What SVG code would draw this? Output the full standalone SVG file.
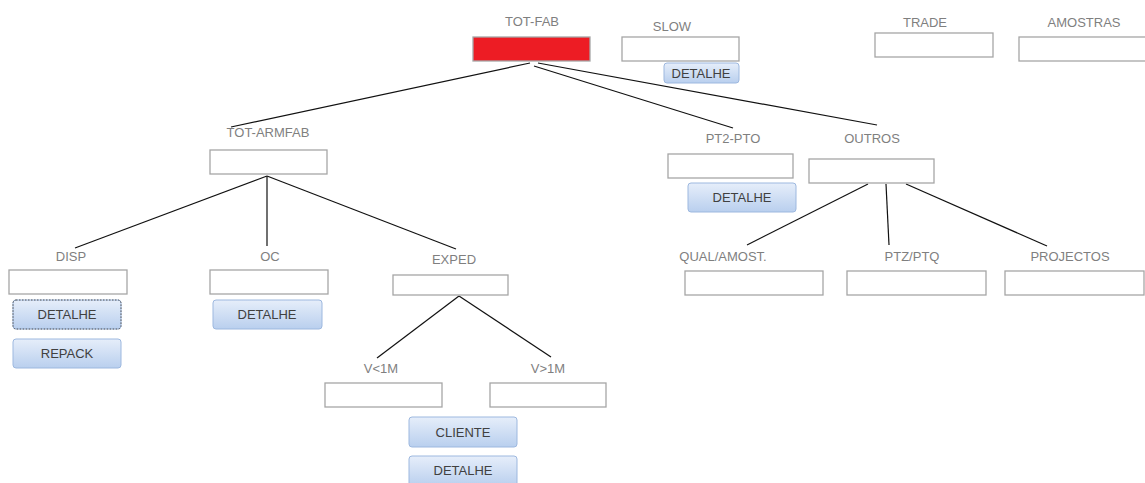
<svg xmlns="http://www.w3.org/2000/svg" width="1145" height="483" viewBox="0 0 1145 483">
<defs>
<linearGradient id="btn" x1="0" y1="0" x2="0" y2="1">
<stop offset="0" stop-color="#e6eefa"/>
<stop offset="1" stop-color="#b9cfee"/>
</linearGradient>
</defs>
<style>
.lbl{font-family:"Liberation Sans",Arial,sans-serif;font-size:13px;fill:#7f7f7f;text-anchor:middle}
.box{fill:#fff;stroke:#a6a6a6;stroke-width:1.3}
.btn{fill:url(#btn);stroke:#9db8df;stroke-width:1}
.bt{font-family:"Liberation Sans",Arial,sans-serif;font-size:13px;fill:#404040;text-anchor:middle}
.ln{stroke:#111;stroke-width:1.2;fill:none}
</style>
<rect width="1145" height="483" fill="#fff"/>
<g id="connectors">
<line class="ln" x1="530" y1="63" x2="231" y2="127"/>
<line class="ln" x1="534" y1="66" x2="733" y2="128"/>
<line class="ln" x1="538" y1="63" x2="877" y2="125"/>
<line class="ln" x1="267" y1="176" x2="75" y2="248"/>
<line class="ln" x1="267" y1="176" x2="267" y2="246"/>
<line class="ln" x1="267" y1="176" x2="456" y2="249"/>
<line class="ln" x1="459" y1="296" x2="377" y2="358" stroke-width="1.8"/>
<line class="ln" x1="459" y1="296" x2="551" y2="357" stroke-width="1.8"/>
<line class="ln" x1="868" y1="184" x2="747" y2="245" stroke-width="2"/>
<line class="ln" x1="886" y1="184" x2="889" y2="245" stroke-width="1.6"/>
<line class="ln" x1="906" y1="184" x2="1047" y2="246"/>
</g>
<g id="tot-fab"><text class="lbl" x="532" y="26">TOT-FAB</text><rect x="473" y="37" width="117" height="24" fill="#ed1c24" stroke="#a6a6a6" stroke-width="1.3"/></g>
<g id="slow"><text class="lbl" x="672" y="31">SLOW</text><rect class="box" x="622" y="37" width="117" height="24"/>
<rect class="btn" x="664" y="63" width="75" height="20" rx="3"/><text class="bt" x="701" y="78">DETALHE</text></g>
<g id="trade"><text class="lbl" x="925" y="27">TRADE</text><rect class="box" x="875" y="33" width="118" height="24"/></g>
<g id="amostras"><text class="lbl" x="1084" y="27">AMOSTRAS</text><rect class="box" x="1019" y="37" width="130" height="24"/></g>
<g id="tot-armfab"><text class="lbl" x="268" y="137">TOT-ARMFAB</text><rect class="box" x="210" y="150" width="117" height="24"/></g>
<g id="pt2-pto"><text class="lbl" x="733" y="143">PT2-PTO</text><rect class="box" x="668" y="154" width="125" height="24"/>
<rect class="btn" x="688" y="183" width="108" height="29" rx="3"/><text class="bt" x="742" y="202">DETALHE</text></g>
<g id="outros"><text class="lbl" x="872" y="143">OUTROS</text><rect class="box" x="809" y="159" width="125" height="24"/></g>
<g id="disp"><text class="lbl" x="71" y="261">DISP</text><rect class="box" x="9" y="270" width="118" height="24"/>
<rect class="btn" x="13" y="300" width="108" height="29" rx="3"/><rect x="13" y="300" width="108" height="29" rx="3" fill="none" stroke="#555" stroke-width="1" stroke-dasharray="1.5 1.5"/><text class="bt" x="67" y="319">DETALHE</text>
<rect class="btn" x="13" y="339" width="108" height="29" rx="3"/><text class="bt" x="67" y="358">REPACK</text></g>
<g id="oc"><text class="lbl" x="270" y="261">OC</text><rect class="box" x="210" y="270" width="118" height="24"/>
<rect class="btn" x="213" y="300" width="109" height="29" rx="3"/><text class="bt" x="267" y="319">DETALHE</text></g>
<g id="exped"><text class="lbl" x="454" y="264">EXPED</text><rect class="box" x="393" y="275" width="115" height="20"/></g>
<g id="v-lt-1m"><text class="lbl" x="381" y="373">V&lt;1M</text><rect class="box" x="325" y="383" width="117" height="24"/>
<rect class="btn" x="409" y="417" width="108" height="30" rx="3"/><text class="bt" x="463" y="437">CLIENTE</text>
<rect class="btn" x="409" y="456" width="108" height="30" rx="3"/><text class="bt" x="463" y="475">DETALHE</text></g>
<g id="v-gt-1m"><text class="lbl" x="548" y="373">V&gt;1M</text><rect class="box" x="490" y="383" width="116" height="24"/></g>
<g id="qual-amost"><text class="lbl" x="723" y="261">QUAL/AMOST.</text><rect class="box" x="685" y="271" width="138" height="24"/></g>
<g id="ptz-ptq"><text class="lbl" x="912" y="261">PTZ/PTQ</text><rect class="box" x="847" y="271" width="139" height="24"/></g>
<g id="projectos"><text class="lbl" x="1070" y="261">PROJECTOS</text><rect class="box" x="1005" y="271" width="139" height="24"/></g>
</svg>
